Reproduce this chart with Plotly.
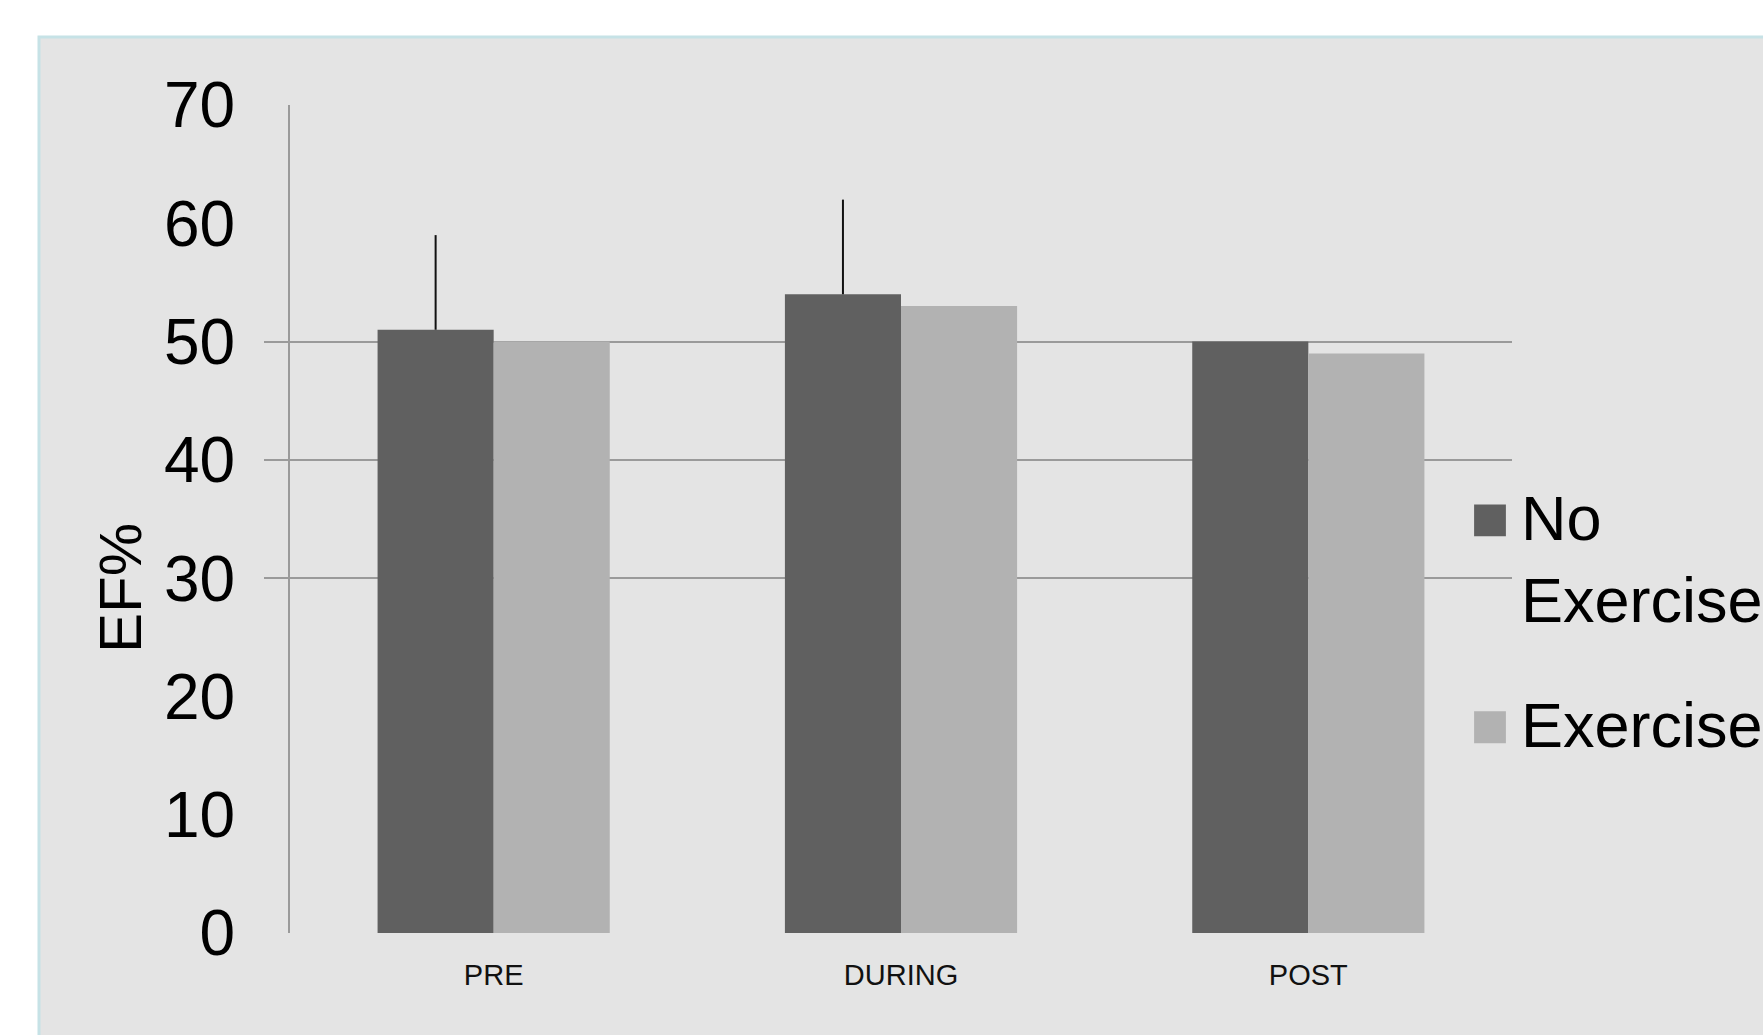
import plotly.graph_objects as go

# ---- data ----
categories = ["PRE", "DURING", "POST"]
no_exercise = [51, 54, 50]
exercise = [50, 53, 49]
no_exercise_err_plus = [8, 8, 0]
series_names = ["No<br>Exercise", "Exercise"]
y_ticks = [0, 10, 20, 30, 40, 50, 60, 70]
grid_ticks = [30, 40, 50]
y_title = "EF%"

# ---- layout geometry (pixels) ----
W, H = 1763, 1035
L, R, T, B = 290, 1512, 105, 933
PW, PH = R - L, B - T

def px_x(x):
    return (x - L) / PW

def px_y(y):
    return (B - y) / PH

DARK = "#606060"
LIGHT = "#b2b2b2"
GRID = "#9a9a9a"
FONT = "Liberation Sans, Arial, sans-serif"

fig = go.Figure()
fig.add_trace(go.Bar(
    x=categories, y=no_exercise, name=series_names[0],
    marker=dict(color=DARK, line=dict(width=0)),
    error_y=dict(type="data", symmetric=False, array=no_exercise_err_plus,
                 arrayminus=[0, 0, 0], width=0, thickness=2, color="#111111"),
    legendgroup="a",
))
fig.add_trace(go.Bar(
    x=categories, y=exercise, name=series_names[1],
    marker=dict(color=LIGHT, line=dict(width=0)),
    legendgroup="b",
))
# empty trace to carry the grid axis
fig.add_trace(go.Scatter(x=[], y=[], yaxis="y2", showlegend=False, hoverinfo="skip"))

fig.update_layout(
    width=W, height=H,
    margin=dict(l=L, r=W - R, t=T, b=H - B, pad=0, autoexpand=False),
    paper_bgcolor="white",
    plot_bgcolor="rgba(0,0,0,0)",
    barmode="group",
    bargap=0.43,
    bargroupgap=0,
    font=dict(family=FONT, color="black"),
    xaxis=dict(
        showgrid=False, showline=False, zeroline=False, ticks="",
        tickfont=dict(size=29, family=FONT, color="#111111"),
        ticklabelstandoff=22, automargin=False,
    ),
    yaxis=dict(
        range=[0, 70], tickvals=y_ticks, showgrid=False, zeroline=False,
        showline=True, linecolor=GRID, linewidth=2, ticks="",
        tickfont=dict(size=64, family=FONT, color="black"),
        ticklabelstandoff=40, automargin=False,
    ),
    yaxis2=dict(
        range=[0, 70], overlaying="y", side="left", tickvals=grid_ticks,
        showgrid=True, gridcolor=GRID, gridwidth=2, zeroline=False,
        showticklabels=False, ticks="outside", ticklen=25, tickcolor=GRID, tickwidth=2,
        showline=False, automargin=False,
    ),
    legend=dict(
        x=px_x(1459), xanchor="left", y=px_y(468), yanchor="top",
        font=dict(size=63, family=FONT, color="black"),
        bgcolor="rgba(0,0,0,0)", valign="top", itemwidth=52,
        traceorder="grouped", tracegroupgap=40,
    ),
    annotations=[dict(
        text=y_title, textangle=-90, xref="paper", yref="paper",
        x=px_x(120), y=px_y(588), xanchor="center", yanchor="middle",
        showarrow=False, font=dict(size=60, family=FONT, color="black"),
    )],
    shapes=[dict(
        type="rect", xref="paper", yref="paper", layer="below",
        x0=px_x(39), x1=px_x(W + 20), y0=px_y(H + 20), y1=px_y(37),
        fillcolor="#e4e4e4", line=dict(color="#c6e2e6", width=3),
    )],
)

post = """
document.body.style.margin = '0';
document.body.style.overflow = 'hidden';
var gd = document.getElementById('{plot_id}');
function fixLegend(){
  document.querySelectorAll('.legend .legendpoints path').forEach(function(p){
    var t0 = p.getAttribute('data-t0');
    if (t0 === null) { t0 = p.getAttribute('transform') || ''; p.setAttribute('data-t0', t0); }
    p.setAttribute('transform', t0 + ' translate(0,5) scale(2.65)');
    p.style.strokeWidth = '0px';
  });
}
fixLegend();
if (gd && gd.on) { gd.on('plotly_afterplot', fixLegend); }
"""
fig.write_html("out.html", post_script=post, config={"displayModeBar": False})
